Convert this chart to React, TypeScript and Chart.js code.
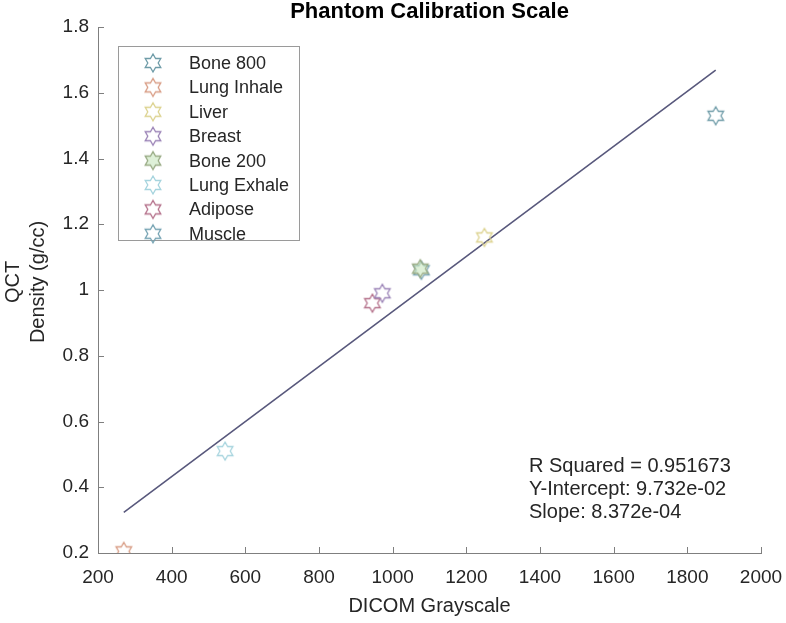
import React, { useEffect, useRef } from "react";
import { Chart, registerables } from "chart.js";

Chart.register(...registerables);

// ---------- data ----------
const materials = ["Bone 800", "Lung Inhale", "Liver", "Breast", "Bone 200", "Lung Exhale", "Adipose", "Muscle"];
const grayscale = [1877, 270, 1249, 972, 1075, 545, 945, 1078];
const density = [1.53, 0.205, 1.16, 0.99, 1.065, 0.51, 0.96, 1.06];
const markerColors = ["#6f9ca8", "#d89c84", "#dcd28e", "#9a82b6", "#98aa84", "#a6d4de", "#b4708a", "#74a2b2"];
const markerFills = ["rgba(0,0,0,0)", "rgba(0,0,0,0)", "rgba(0,0,0,0)", "rgba(0,0,0,0)", "rgba(200,230,190,0.6)", "rgba(0,0,0,0)", "rgba(0,0,0,0)", "rgba(0,0,0,0)"];
const xTicks = [200, 400, 600, 800, 1000, 1200, 1400, 1600, 1800, 2000];
const yTicks = [0.2, 0.4, 0.6, 0.8, 1.0, 1.2, 1.4, 1.6, 1.8];
const fitSlope = 8.372e-4;
const fitIntercept = 9.732e-2;
const statLines = ["R Squared = 0.951673", "Y-Intercept: 9.732e-02", "Slope: 8.372e-04"];
const chartTitle = "Phantom Calibration Scale";
const xTitle = "DICOM Grayscale";
const yTitleLines = ["QCT", "Density (g/cc)"];

const FONT = "'Liberation Sans', Arial, Helvetica, sans-serif";
const TEXT = "#262626";
const AXIS = "#7f7f7f";

function makeHexagram(stroke: string, fill: string): HTMLCanvasElement {
  const s = 22;
  const c = document.createElement("canvas");
  c.width = s;
  c.height = s;
  const ctx = c.getContext("2d")!;
  const R = 9;
  const r = R / Math.sqrt(3);
  ctx.beginPath();
  for (let i = 0; i < 12; i++) {
    const a = -Math.PI / 2 + (i * Math.PI) / 6;
    const rad = i % 2 === 0 ? R : r;
    const px = s / 2 + rad * Math.cos(a);
    const py = s / 2 + rad * Math.sin(a);
    if (i === 0) ctx.moveTo(px, py);
    else ctx.lineTo(px, py);
  }
  ctx.closePath();
  ctx.fillStyle = fill;
  ctx.fill();
  ctx.strokeStyle = stroke;
  ctx.lineWidth = 1.3;
  ctx.stroke();
  return c;
}

export default function App() {
  const ref = useRef<HTMLCanvasElement | null>(null);

  useEffect(() => {
    if (!ref.current) return;
    const images = materials.map((_, i) => makeHexagram(markerColors[i], markerFills[i]));
    const minX = Math.min(...grayscale);
    const maxX = Math.max(...grayscale);

    const decorations = {
      id: "decorations",
      afterDatasetsDraw(chart: any) {
        const { ctx, chartArea, scales } = chart;
        const xs = scales.x;
        const ys = scales.y;
        ctx.save();
        // inward tick marks
        ctx.strokeStyle = AXIS;
        ctx.lineWidth = 1;
        xs.ticks.forEach((t: any) => {
          const px = Math.round(xs.getPixelForValue(t.value)) + 0.5;
          ctx.beginPath();
          ctx.moveTo(px, chartArea.bottom);
          ctx.lineTo(px, chartArea.bottom - 6);
          ctx.stroke();
        });
        ys.ticks.forEach((t: any) => {
          const py = Math.round(ys.getPixelForValue(t.value)) + 0.5;
          ctx.beginPath();
          ctx.moveTo(chartArea.left, py);
          ctx.lineTo(chartArea.left + 6, py);
          ctx.stroke();
        });

        // legend box
        const lx = 118.5, ly = 46.5, lw = 181, lh = 194;
        ctx.fillStyle = "#ffffff";
        ctx.fillRect(lx, ly, lw, lh);
        ctx.strokeStyle = "#9a9a9a";
        ctx.lineWidth = 1;
        ctx.strokeRect(lx, ly, lw, lh);
        ctx.font = `18px ${FONT}`;
        ctx.fillStyle = TEXT;
        ctx.textAlign = "left";
        ctx.textBaseline = "middle";
        chart.data.datasets.forEach((ds: any, i: number) => {
          if (!ds.isMaterial) return;
          const cy = 63 + i * 24.4;
          ctx.drawImage(images[i], 153 - 11, cy - 11);
          ctx.fillText(ds.label, 189, cy + 1);
        });

        // statistics annotation
        ctx.font = `20px ${FONT}`;
        statLines.forEach((s, i) => ctx.fillText(s, 529, 466 + i * 23));

        // title
        ctx.font = `bold 22px ${FONT}`;
        ctx.textAlign = "center";
        ctx.fillStyle = "#000";
        ctx.fillText(chartTitle, (chartArea.left + chartArea.right) / 2, 12);

        // axis titles
        ctx.fillStyle = TEXT;
        ctx.font = `20px ${FONT}`;
        ctx.fillText(xTitle, (chartArea.left + chartArea.right) / 2, 606);
        ctx.translate(0, 282);
        ctx.rotate(-Math.PI / 2);
        ctx.fillText(yTitleLines[0], 0, 13);
        ctx.fillText(yTitleLines[1], 0, 38);
        ctx.restore();
      },
    };

    const materialSets = materials.map((m, i) => ({
      type: "scatter" as const,
      label: m,
      isMaterial: true,
      data: [{ x: grayscale[i], y: density[i] }],
      pointStyle: images[i],
      pointRadius: 9,
      pointHoverRadius: 9,
      order: 1,
    }));

    const fitSet = {
      type: "line" as const,
      label: "fit",
      isMaterial: false,
      data: [
        { x: minX, y: fitIntercept + fitSlope * minX },
        { x: maxX, y: fitIntercept + fitSlope * maxX },
      ],
      borderColor: "#58587c",
      borderWidth: 1.6,
      pointRadius: 0,
      fill: false,
      order: 2,
    };

    const chart = new Chart(ref.current, {
      type: "scatter",
      data: { datasets: [...materialSets, fitSet] as any },
      options: {
        animation: false,
        responsive: false,
        maintainAspectRatio: false,
        layout: { padding: { top: 27, right: 25, left: 0, bottom: 0 } },
        plugins: {
          legend: { display: false },
          title: { display: false },
          tooltip: { enabled: false },
        },
        scales: {
          x: {
            type: "linear",
            min: 200,
            max: 2000,
            afterBuildTicks: (s: any) => {
              s.ticks = xTicks.map((v) => ({ value: v }));
            },
            afterFit: (s: any) => {
              s.height = 70;
              s.paddingLeft = 0;
              s.paddingRight = 0;
            },
            grid: { display: false, drawTicks: false },
            border: { display: true, color: AXIS, width: 1 },
            ticks: {
              padding: 13,
              color: TEXT,
              font: { family: FONT, size: 19 },
              callback: (v: any) => String(v),
              maxRotation: 0,
              autoSkip: false,
            },
          },
          y: {
            type: "linear",
            min: 0.2,
            max: 1.8,
            afterBuildTicks: (s: any) => {
              s.ticks = yTicks.map((v) => ({ value: v }));
            },
            afterFit: (s: any) => {
              s.width = 98;
              s.paddingTop = 0;
              s.paddingBottom = 0;
            },
            grid: { display: false, drawTicks: false },
            border: { display: true, color: AXIS, width: 1 },
            ticks: {
              padding: 9,
              color: TEXT,
              font: { family: FONT, size: 19 },
              callback: (v: any) => String(Math.round(v * 10) / 10),
              autoSkip: false,
            },
          },
        },
      },
      plugins: [decorations],
    });
    return () => chart.destroy();
  }, []);

  return (
    <canvas
      ref={ref}
      width={786}
      height={623}
      style={{ position: "fixed", left: 0, top: 0, width: 786, height: 623, background: "#fff" }}
    />
  );
}
